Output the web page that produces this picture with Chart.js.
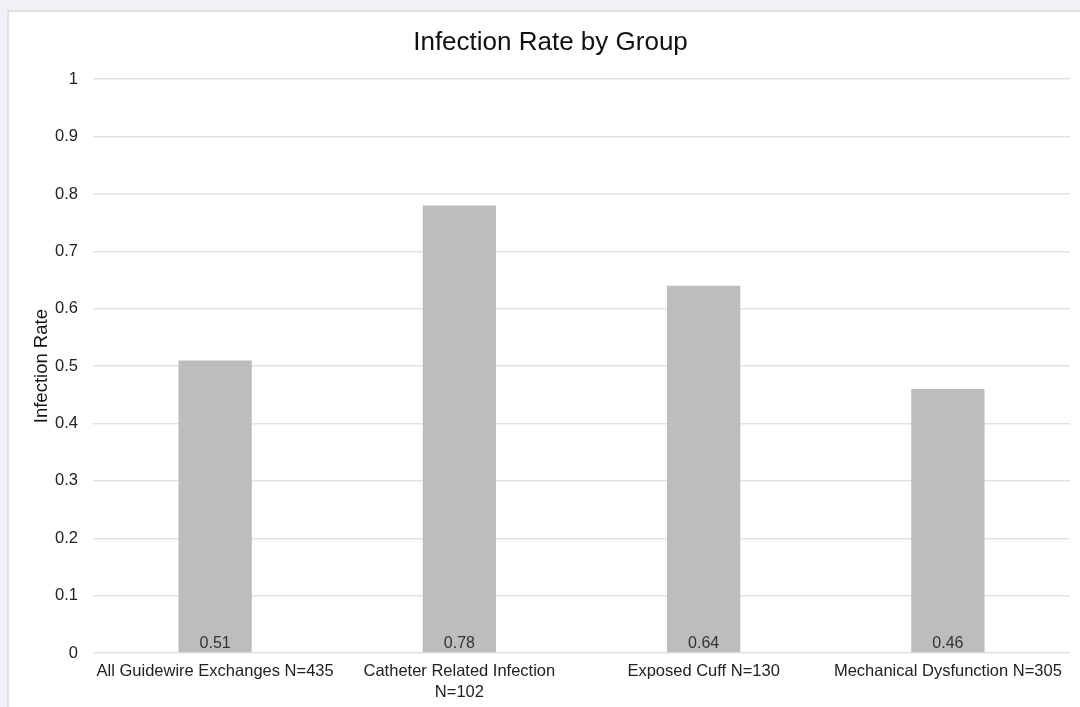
<!DOCTYPE html>
<html>
<head>
<meta charset="utf-8">
<script src="https://cdn.jsdelivr.net/npm/chart.js@4/dist/chart.umd.min.js"></script>
<style>
  html, body { margin: 0; padding: 0; background: #eff1f6; overflow: hidden; }
  #panel {
    position: absolute; left: 7px; top: 10px; width: 1090px; height: 710px;
    background: #ffffff; border: 2px solid #e2e2e2; box-sizing: border-box;
  }
  #wrap { position: absolute; left: 0; top: 0; width: 1066px; height: 699px; }
</style>
</head>
<body>
<div id="panel"><div id="wrap"><canvas id="c"></canvas></div></div>
<script>
const categories = [
  "All Guidewire Exchanges N=435",
  ["Catheter Related Infection", "N=102"],
  "Exposed Cuff N=130",
  "Mechanical Dysfunction N=305"
];
const infectionRates = [0.51, 0.78, 0.64, 0.46];
const yTicks = [0, 0.1, 0.2, 0.3, 0.4, 0.5, 0.6, 0.7, 0.8, 0.9, 1];

const FONT = "'Liberation Sans', Arial, Helvetica, sans-serif";

// Writes each bar's value just above its base
const baseValueLabels = {
  id: 'baseValueLabels',
  afterDatasetsDraw(chart) {
    const ctx = chart.ctx;
    const meta = chart.getDatasetMeta(0);
    ctx.save();
    ctx.font = "16px " + FONT;
    ctx.fillStyle = '#333333';
    ctx.textAlign = 'center';
    ctx.textBaseline = 'middle';
    meta.data.forEach((bar, i) => {
      const v = chart.data.datasets[0].data[i];
      ctx.fillText(v.toFixed(2), bar.x, bar.base - 9);
    });
    ctx.restore();
  }
};

new Chart(document.getElementById('c'), {
  type: 'bar',
  data: {
    labels: categories,
    datasets: [{
      label: 'Infection Rate',
      data: infectionRates,
      backgroundColor: '#bdbdbd',
      borderWidth: 0,
      categoryPercentage: 1.0,
      barPercentage: 0.30
    }]
  },
  options: {
    responsive: true,
    maintainAspectRatio: false,
    animation: false,
    layout: { padding: { left: 22, right: 5, top: 3, bottom: 0 } },
    plugins: {
      legend: { display: false },
      tooltip: { enabled: false },
      title: {
        display: true,
        text: 'Infection Rate by Group',
        color: '#111111',
        font: { family: FONT, size: 26, weight: 'normal' },
        padding: { top: 12, bottom: 21 }
      }
    },
    scales: {
      x: {
        grid: { display: false, drawTicks: false },
        border: { display: false },
        ticks: {
          color: '#222222',
          font: { family: FONT, size: 16.5, lineHeight: 1.27 },
          maxRotation: 0,
          autoSkip: false,
          padding: 8
        }
      },
      y: {
        min: 0,
        max: 1,
        afterBuildTicks(axis) { axis.ticks = yTicks.map(v => ({ value: v })); },
        afterFit(axis) { axis.width = 62; },
        grid: { color: '#e3e3e3', lineWidth: 1.5, drawTicks: false },
        border: { display: false },
        ticks: {
          color: '#222222',
          font: { family: FONT, size: 16.5 },
          padding: 15,
          callback: v => String(+Number(v).toFixed(1))
        },
        title: {
          display: true,
          text: 'Infection Rate',
          color: '#111111',
          font: { family: FONT, size: 18.5 },
          padding: { top: 0, bottom: 1 }
        }
      }
    }
  },
  plugins: [baseValueLabels]
});
</script>
</body>
</html>
